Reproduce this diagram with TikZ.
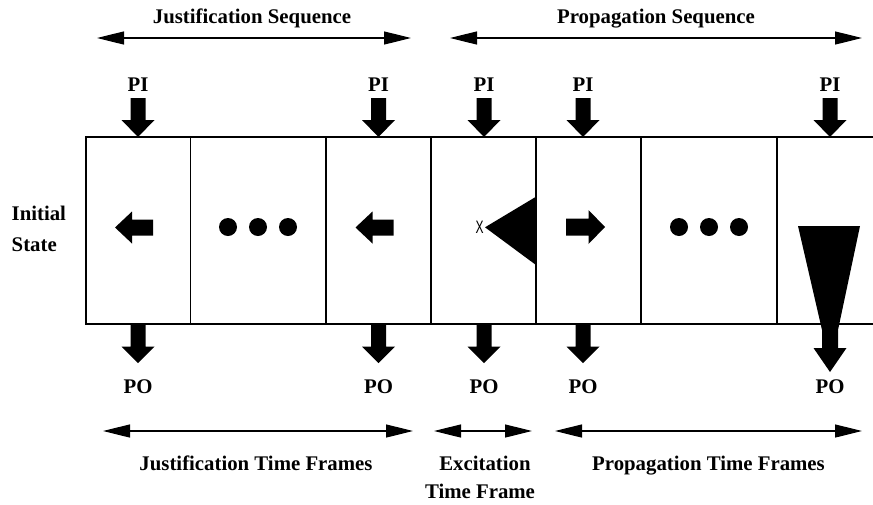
\documentclass[tikz,border=0pt]{standalone}
\usepackage{fontspec}
\setmainfont{Liberation Serif}
\newfontfamily\xfont{Liberation Sans}
\usetikzlibrary{arrows.meta}
\newcommand\blkdown[4]{% cx, ytop, yneck, ytip
  \fill (#1-7.5,#2) -- (#1+7.5,#2) -- (#1+7.5,#3) -- (#1+16.5,#3) -- (#1,#4) -- (#1-16.5,#3) -- (#1-7.5,#3) -- cycle;}
\newcommand\blkleft[2]{% tip x, end x
  \fill (#1,227.5) -- (#1+17,211.5) -- (#1+17,219.5) -- (#2,219.5) -- (#2,235.5) -- (#1+17,235.5) -- (#1+17,243.5) -- cycle;}
\begin{document}
\begin{tikzpicture}[x=1pt,y=-1pt,
  lbl/.style={font=\bfseries\fontsize{20.8}{24}\selectfont, inner sep=0pt, anchor=base},
  dbl/.style={line width=1.2pt, {Triangle[length=27pt,width=13pt]}-{Triangle[length=27pt,width=13pt]}},
  frame/.style={line width=1.2pt}]
\useasboundingbox (0,0) rectangle (873,504);
% cells
\draw[frame] (873,137) -- (86,137) -- (86,324) -- (873,324);
\foreach \xx in {190.5,326,431,536,641,777} \draw[frame] (\xx,137) -- (\xx,324);
% top labels and arrows
\node[lbl] (js) at (252,23.5) {Justification Sequence};
\node[lbl] (ps) at (656,23.5) {Propagation Sequence};
\coordinate (jsl) at (97,38); \coordinate (jsr) at (411,38);
\coordinate (psl) at (450,38); \coordinate (psr) at (862,38);
\draw[dbl] (jsl) -- (jsr);
\draw[dbl] (psl) -- (psr);
% PI / PO
\foreach \cx [count=\i] in {138,378.5,484,583,830} {
  \node[lbl] (pi\i) at (\cx,91) {PI};
  \node[lbl] (po\i) at (\cx,393) {PO};
  \blkdown{\cx}{98}{120}{137}
}
\foreach \cx in {138,378.5,484,583} {\blkdown{\cx}{324}{346.5}{363}}
% initial state
\node[lbl, anchor=base west] (init1) at (11.5,220) {Initial};
\node[lbl, anchor=base west] (init2) at (11.5,251.7) {State};
% cell contents
\blkleft{115}{153}
\blkleft{355.5}{393.5}
\foreach \dx in {228,258,288,679,709,739} \fill (\dx,227) circle (9);
\fill (485,227.3) -- (536,196.7) -- (536,265) -- cycle;
\node[inner sep=0pt, font=\xfont\fontsize{20}{24}\selectfont] (xmark) at (479.5,227.5) {\scalebox{0.6}[0.9]{X}};
\fill (566,218.5) -- (588.5,218.5) -- (588.5,210) -- (605,227) -- (588.5,244) -- (588.5,235.5) -- (566,235.5) -- cycle;
\fill (798,226) -- (860,226) -- (838,330) -- (838,348) -- (846.5,348) -- (830,372) -- (813.5,348) -- (822,348) -- (822,330) -- cycle;
% bottom arrows and labels
\coordinate (jtl) at (103,431); \coordinate (jtr) at (413,431);
\coordinate (etl) at (434,431); \coordinate (etr) at (532,431);
\coordinate (ptl) at (555,431); \coordinate (ptr) at (862,431);
\draw[dbl] (jtl) -- (jtr);
\draw[dbl] (etl) -- (etr);
\draw[dbl] (ptl) -- (ptr);
\node[lbl] (jtf) at (256,470) {Justification Time Frames};
\node[lbl] (exc1) at (485,470) {Excitation};
\node[lbl] (exc2) at (480,498) {Time Frame};
\node[lbl] (ptf) at (708.5,470) {Propagation Time Frames};
\end{tikzpicture}
\end{document}
